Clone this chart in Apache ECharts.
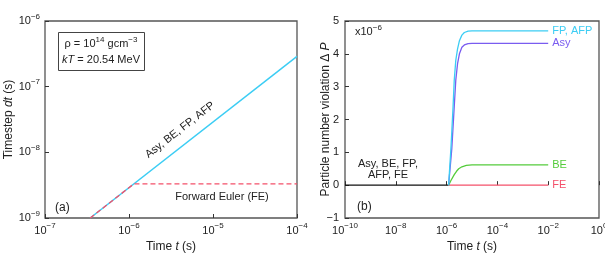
<!DOCTYPE html>
<html><head><meta charset="utf-8">
<script src="https://cdn.jsdelivr.net/npm/echarts@6/dist/echarts.min.js"></script>
<style>html,body{margin:0;padding:0;background:#fff}#c{width:605px;height:253px}</style>
</head><body><div id="c"></div>
<script>
// Panel (a): timestep vs time
var dtAll = [[3.45e-7, 1e-9], [1e-4, 2.9e-7]];            // Asy, BE, FP, AFP
var dtFE = [[3.45e-7, 1e-9], [1.14e-6, 3.3e-9], [1e-4, 3.3e-9]]; // Forward Euler
var aXTicks = [1e-7, 1e-6, 1e-5, 1e-4];
var aYTicks = [1e-9, 1e-8, 1e-7, 1e-6];

// Panel (b): particle number violation (x1e-6) vs time
var pAllZero = [[1e-10, 0], [1.2e-6, 0]];
var pFP = [[1.2e-6, 0], [1.5e-6, 1.2], [1.8e-6, 2.4], [2.0e-6, 3.2], [2.3e-6, 3.8], [2.7e-6, 4.15],
           [3.2e-6, 4.4], [4e-6, 4.57], [5e-6, 4.65], [7e-6, 4.69], [1e-5, 4.7], [1e-2, 4.7]];
var pAsy = [[1.2e-6, 0], [1.6e-6, 1.1], [2.0e-6, 2.4], [2.3e-6, 3.2], [2.7e-6, 3.7], [3.2e-6, 4.0],
            [4e-6, 4.2], [5e-6, 4.27], [7e-6, 4.31], [1e-5, 4.32], [1e-2, 4.32]];
var pBE = [[1.2e-6, 0], [1.5e-6, 0.15], [2e-6, 0.32], [2.5e-6, 0.43], [3e-6, 0.5], [4e-6, 0.56],
           [6e-6, 0.6], [1e-5, 0.62], [1e-2, 0.62]];
var pFE = [[1.2e-6, 0], [1e-2, 0]];
var bYTicks = [-1, 0, 1, 2, 3, 4, 5];

var C_CYAN = '#3ccdf4', C_RED = '#f4506a', C_PURPLE = '#7a5cf0', C_GREEN = '#55cc3c', C_BLACK = '#111';
var FONT = 'Liberation Sans';

var supRich = {
  b: {fontSize: 11, fontFamily: FONT, color: '#222', lineHeight: 13},
  s: {fontSize: 8, fontFamily: FONT, color: '#222', lineHeight: 8, padding: [0, 0, 9, 0]}
};
function powLabel(v) {
  var e = Math.round(Math.log10(v));
  return '{b|10}{s|' + String(e).replace('-', '\u2212') + '}';
}
function axisTick() { return {show: true, inside: true, length: 4, lineStyle: {color: '#333', width: 1}}; }
var nameRich = {rich: {n: {fontSize: 12, color: '#222', fontFamily: FONT}, i: {fontSize: 12, color: '#222', fontStyle: 'italic', fontFamily: FONT}}};

var chart = echarts.init(document.getElementById('c'), null, {renderer: 'canvas'});
chart.setOption({
  animation: false,
  textStyle: {fontFamily: FONT},
  grid: [
    {left: 45, top: 21, width: 252, height: 197, show: true, borderColor: '#555', borderWidth: 1.3,
     backgroundColor: 'transparent', containLabel: false, outerBoundsMode: 'none'},
    {left: 345, top: 21, width: 254, height: 197, show: true, borderColor: '#555', borderWidth: 1.3,
     backgroundColor: 'transparent', containLabel: false, outerBoundsMode: 'none'}
  ],
  xAxis: [
    {type: 'log', gridIndex: 0, min: aXTicks[0], max: aXTicks[aXTicks.length - 1],
     axisLine: {show: false}, axisTick: axisTick(), splitLine: {show: false},
     axisLabel: {formatter: powLabel, rich: supRich, margin: 6},
     name: '{n|Time }{i|t}{n| (s)}', nameLocation: 'middle', nameGap: 23, nameMoveOverlap: false, nameTextStyle: nameRich},
    {type: 'log', gridIndex: 1, min: 1e-10, max: 1, interval: 2,
     axisLine: {show: false}, axisTick: axisTick(), splitLine: {show: false},
     axisLabel: {formatter: powLabel, rich: supRich, margin: 6},
     name: '{n|Time }{i|t}{n| (s)}', nameLocation: 'middle', nameGap: 23, nameMoveOverlap: false, nameTextStyle: nameRich}
  ],
  yAxis: [
    {type: 'log', gridIndex: 0, min: aYTicks[0], max: aYTicks[aYTicks.length - 1],
     axisLine: {show: false}, axisTick: axisTick(), splitLine: {show: false},
     axisLabel: {formatter: powLabel, rich: supRich, margin: 5},
     name: '{n|Timestep }{i|dt}{n| (s)}', nameLocation: 'middle', nameGap: 30, nameRotate: 90, nameMoveOverlap: false, nameTextStyle: nameRich},
    {type: 'value', gridIndex: 1, min: bYTicks[0], max: bYTicks[bYTicks.length - 1], interval: 1,
     axisLine: {show: false}, axisTick: axisTick(), splitLine: {show: false},
     axisLabel: {fontSize: 11, color: '#222', margin: 6, formatter: function (v) { return String(v).replace('-', '\u2212'); }},
     name: '{n|Particle number violation \u0394 }{i|P}', nameLocation: 'middle', nameGap: 13, nameRotate: 90, nameMoveOverlap: false, nameTextStyle: nameRich}
  ],
  series: [
    {type: 'line', xAxisIndex: 0, yAxisIndex: 0, data: dtAll, showSymbol: false, symbol: 'none',
     lineStyle: {color: C_CYAN, width: 1.5}, z: 2},
    {type: 'line', xAxisIndex: 0, yAxisIndex: 0, data: dtFE, showSymbol: false, symbol: 'none',
     lineStyle: {color: C_RED, width: 1.3, type: [5, 3]}, z: 3},
    {type: 'line', xAxisIndex: 1, yAxisIndex: 1, data: pAllZero, symbol: 'none',
     lineStyle: {color: C_BLACK, width: 1.3}, z: 2},
    {type: 'line', xAxisIndex: 1, yAxisIndex: 1, data: pFE, symbol: 'none',
     lineStyle: {color: C_RED, width: 1.3}, z: 2,
     endLabel: {show: true, formatter: 'FE', color: C_RED, fontSize: 11, distance: 4}},
    {type: 'line', xAxisIndex: 1, yAxisIndex: 1, data: pBE, symbol: 'none',
     lineStyle: {color: C_GREEN, width: 1.3}, z: 2,
     endLabel: {show: true, formatter: 'BE', color: C_GREEN, fontSize: 11, distance: 4}},
    {type: 'line', xAxisIndex: 1, yAxisIndex: 1, data: pAsy, symbol: 'none',
     lineStyle: {color: C_PURPLE, width: 1.3}, z: 2,
     endLabel: {show: true, formatter: 'Asy', color: C_PURPLE, fontSize: 11, distance: 4}},
    {type: 'line', xAxisIndex: 1, yAxisIndex: 1, data: pFP, symbol: 'none',
     lineStyle: {color: C_CYAN, width: 1.3}, z: 3,
     endLabel: {show: true, formatter: 'FP, AFP', color: C_CYAN, fontSize: 11, distance: 4}}
  ],
  graphic: [
    {type: 'rect', shape: {x: 58.5, y: 32.5, width: 86, height: 38}, style: {fill: '#fff', stroke: '#444', lineWidth: 1}, z: 10},
    {type: 'text', x: 101, y: 44, z: 11, style: {
      text: '{t|\u03c1 = 10}{s|14}{t| gcm}{s|\u22123}', align: 'center', verticalAlign: 'middle',
      rich: {t: {fontSize: 11, fontFamily: FONT, fill: '#222', lineHeight: 13}, s: {fontSize: 8, fontFamily: FONT, fill: '#222', lineHeight: 8, padding: [0, 0, 9, 0]}}}},
    {type: 'text', x: 101, y: 60, z: 11, style: {
      text: '{i|kT}{t| = 20.54 MeV}', align: 'center', verticalAlign: 'middle',
      rich: {t: {fontSize: 11, fontFamily: FONT, fill: '#222'}, i: {fontSize: 11, fontFamily: FONT, fill: '#222', fontStyle: 'italic'}}}},
    {type: 'text', x: 180, y: 130, rotation: 0.66, z: 11, style: {
      text: 'Asy, BE, FP, AFP', align: 'center', verticalAlign: 'middle', fontSize: 11, fontFamily: FONT, fill: '#222'}},
    {type: 'text', x: 222, y: 197, z: 11, style: {
      text: 'Forward Euler (FE)', align: 'center', verticalAlign: 'middle', fontSize: 11, fontFamily: FONT, fill: '#222'}},
    {type: 'text', x: 55, y: 208, z: 11, style: {
      text: '(a)', align: 'left', verticalAlign: 'middle', fontSize: 12, fontFamily: FONT, fill: '#222'}},
    {type: 'text', x: 357, y: 207, z: 11, style: {
      text: '(b)', align: 'left', verticalAlign: 'middle', fontSize: 12, fontFamily: FONT, fill: '#222'}},
    {type: 'text', x: 388, y: 169, z: 11, style: {
      text: 'Asy, BE, FP,\nAFP, FE', align: 'center', verticalAlign: 'middle', fontSize: 11, lineHeight: 11, fontFamily: FONT, fill: '#222'}},
    {type: 'text', x: 355, y: 32, z: 11, style: {
      text: '{t|x10}{s|\u22126}', align: 'left', verticalAlign: 'middle',
      rich: {t: {fontSize: 11, fontFamily: FONT, fill: '#222', lineHeight: 13}, s: {fontSize: 8, fontFamily: FONT, fill: '#222', lineHeight: 8, padding: [0, 0, 9, 0]}}}}
  ]
});
</script></body></html>
